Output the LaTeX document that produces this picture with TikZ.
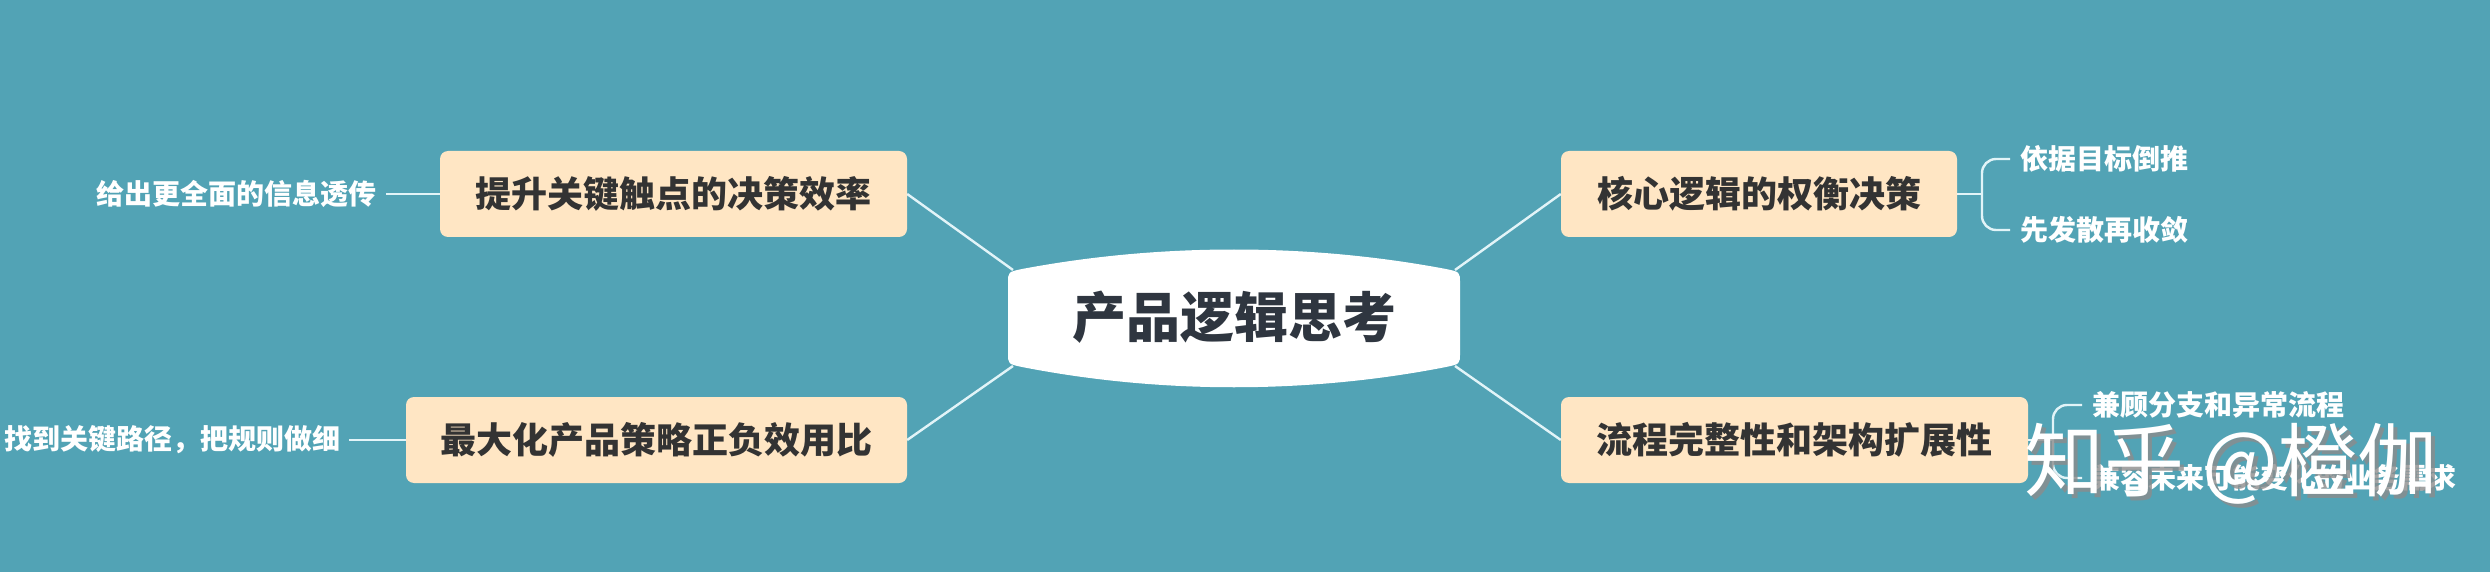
\documentclass[tikz,border=0pt]{standalone}
\usepackage{fontspec}
\newfontfamily\cjk{Noto Sans CJK SC}
\definecolor{bgc}{HTML}{52A3B5}
\definecolor{boxfill}{HTML}{FFE6C4}
\definecolor{boxtext}{HTML}{333333}
\definecolor{roottext}{HTML}{2F3640}
\definecolor{linec}{HTML}{E2F4F8}
\begin{document}
\begin{tikzpicture}[x=1pt,y=-1pt,
  topic/.style={fill=boxfill,rounded corners=8pt,inner sep=0pt,minimum height=86pt,
    text=boxtext,font=\cjk\bfseries\fontsize{36}{40}\selectfont},
  leaf/.style={text=white,inner sep=0pt,font=\cjk\bfseries\fontsize{28}{32}\selectfont},
  conn/.style={draw=linec,line width=2.4pt},
  brk/.style={draw=linec,line width=2.4pt,rounded corners=14pt}]
\fill[bgc] (0,0) rectangle (2490,572);
\useasboundingbox (0,0) rectangle (2490,572);
% root shape
\fill[white] (1008,283) .. controls (1008,272) .. (1022,269)
  .. controls (1160,243) and (1308,243) .. (1446,269)
  .. controls (1460,272) .. (1460,283) -- (1460,353) .. controls (1460,364) .. (1446,367)
  .. controls (1308,394) and (1160,394) .. (1022,367) .. controls (1008,364) .. (1008,353) -- cycle;
\node[text=roottext,font=\cjk\bfseries\fontsize{54}{60}\selectfont] (root) at (1234,317) {产品逻辑思考};
\coordinate (rTL) at (1013,270);
\coordinate (rTR) at (1455,270);
\coordinate (rBL) at (1013,366);
\coordinate (rBR) at (1455,366);
% topics
\node[topic,minimum width=467pt] (tl) at (673.5,194) {提升关键触点的决策效率};
\node[topic,minimum width=501pt] (bl) at (656.5,440) {最大化产品策略正负效用比};
\node[topic,minimum width=396pt] (tr) at (1759,194) {核心逻辑的权衡决策};
\node[topic,minimum width=467pt] (br) at (1794.5,440) {流程完整性和架构扩展性};
\draw[conn] (rTL) -- (tl.east);
\draw[conn] (rBL) -- (bl.east);
\draw[conn] (rTR) -- (tr.west);
\draw[conn] (rBR) -- (br.west);
% left leaves
\node[leaf,anchor=east] (tl1) at (377,194) {给出更全面的信息透传};
\node[leaf,anchor=east] (bl1) at (341,440) {找到关键路径，把规则做细};
\draw[conn] ([xshift=9pt]tl1.east) -- (tl.west);
\draw[conn] ([xshift=8pt]bl1.east) -- (bl.west);
% right leaves top
\node[leaf,anchor=west] (tr1) at (2020,159) {依据目标倒推};
\node[leaf,anchor=west] (tr2) at (2020,230) {先发散再收敛};
\coordinate (trj) at (1982,194);
\draw[conn] (tr.east) -- (trj);
\draw[brk] ([xshift=-10pt]tr1.west) -- (1982,159) -- (1982,230) -- ([xshift=-10pt]tr2.west);
% right leaves bottom
\node[leaf,anchor=west] (br1) at (2092,405) {兼顾分支和异常流程};
\node[leaf,anchor=west] (br2) at (2092,478) {兼容未来可能变化的业务需求};
\coordinate (brj) at (2053,440);
\draw[conn] (br.east) -- (brj);
\draw[brk] ([xshift=-10pt]br1.west) -- (2053,405) -- (2053,478) -- ([xshift=-10pt]br2.west);
% watermark
\node[text=black!45,opacity=0.8,font=\cjk\fontsize{80}{90}\selectfont,inner sep=0pt] (wms) at (2235,468) {知乎 @橙伽};
\node[text=white,font=\cjk\fontsize{80}{90}\selectfont,inner sep=0pt] (wm) at (2231,464) {知乎 @橙伽};
\end{tikzpicture}
\end{document}
